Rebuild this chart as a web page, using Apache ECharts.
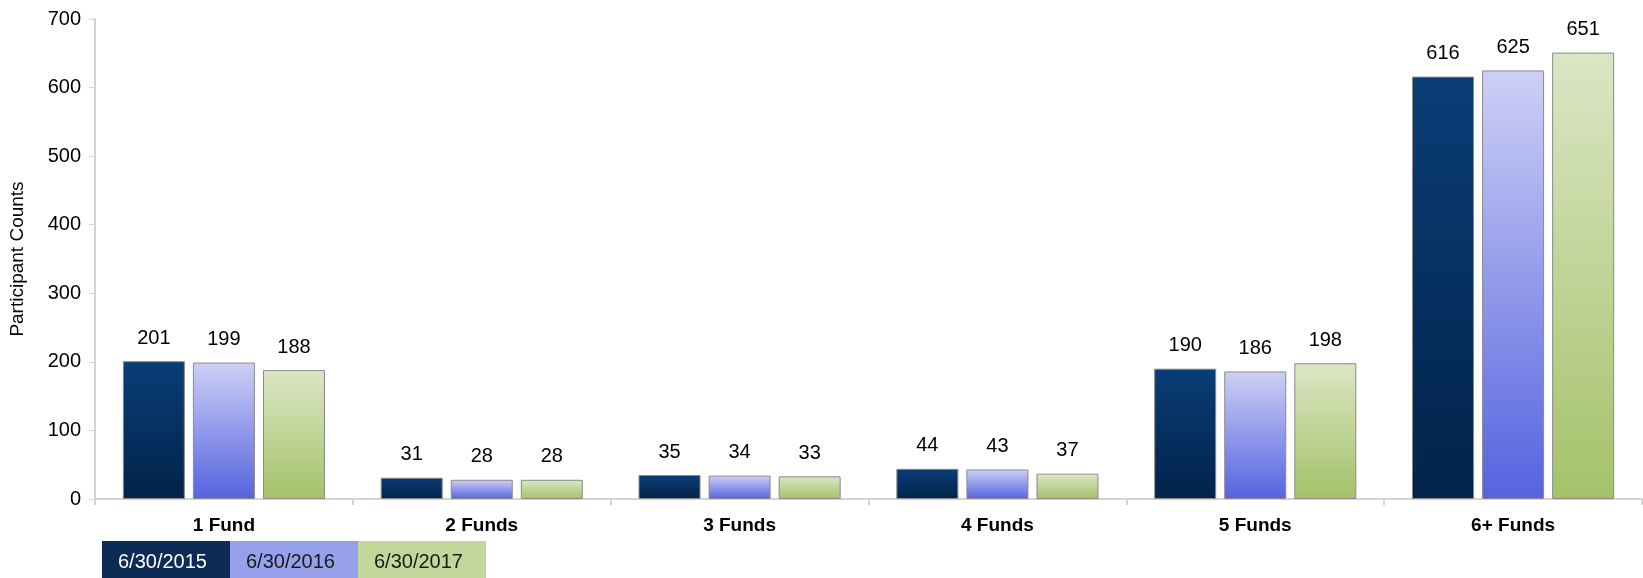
<!DOCTYPE html>
<html><head><meta charset="utf-8">
<script src="https://cdn.jsdelivr.net/npm/echarts@6/dist/echarts.min.js"></script>
<style>html,body{margin:0;padding:0;background:#fff}#c{width:1643px;height:578px}</style>
</head><body><div id="c"></div>
<script>
const categories = ['1 Fund', '2 Funds', '3 Funds', '4 Funds', '5 Funds', '6+ Funds'];
const seriesNames = ['6/30/2015', '6/30/2016', '6/30/2017'];
const values2015 = [201, 31, 35, 44, 190, 616];
const values2016 = [199, 28, 34, 43, 186, 625];
const values2017 = [188, 28, 33, 37, 198, 651];
const yTicks = [0, 100, 200, 300, 400, 500, 600, 700];

const gradients = [
  ['#0a3d76', '#02234a'],
  ['#cdd0f5', '#5563e0'],
  ['#dbe6c4', '#a4c26a']
];
const legendFill = ['#0c2c55', '#97a0ea', '#c4d79b'];
const legendText = ['#ffffff', '#1a1a1a', '#1a1a1a'];
const font = 'Liberation Sans, Arial, sans-serif';

const chart = echarts.init(document.getElementById('c'));
const allValues = [values2015, values2016, values2017];
const series = allValues.map((vals, i) => ({
  name: seriesNames[i],
  type: 'bar',
  data: vals,
  barWidth: 62,
  barGap: '13%',
  itemStyle: {
    color: new echarts.graphic.LinearGradient(0, 0, 0, 1, [
      {offset: 0, color: gradients[i][0]},
      {offset: 1, color: gradients[i][1]}
    ]),
    borderColor: '#8a8a8a',
    borderWidth: 1
  },
  label: {
    show: true, position: 'top', distance: 13,
    color: '#000', fontSize: 20, fontFamily: font
  }
}));

const legendItems = [];
seriesNames.forEach((n, i) => {
  legendItems.push({
    type: 'rect', left: 102 + i * 128, top: 541,
    shape: {width: 128, height: 37},
    style: {fill: legendFill[i]}
  });
  legendItems.push({
    type: 'text', left: 102 + i * 128 + 16, top: 552,
    style: {text: n, fill: legendText[i], font: '20px ' + font}
  });
});

chart.setOption({
  animation: false,
  grid: {left: 93, right: 1, top: 19, bottom: 79, containLabel: false},
  xAxis: {
    type: 'category', data: categories,
    axisLine: {lineStyle: {color: '#d4d4d4', width: 2}},
    axisTick: {show: true, length: 6, lineStyle: {color: '#d4d4d4', width: 2}},
    axisLabel: {color: '#000', fontSize: 19, fontWeight: 'bold', fontFamily: font, margin: 17}
  },
  yAxis: {
    type: 'value', min: 0, max: 700, interval: 100,
    name: 'Participant Counts', nameLocation: 'middle', nameGap: 68,
    nameTextStyle: {color: '#000', fontSize: 19, fontFamily: font},
    axisLine: {show: true, lineStyle: {color: '#d4d4d4', width: 2}},
    axisTick: {show: true, length: 6, lineStyle: {color: '#d4d4d4', width: 1}},
    splitLine: {show: false},
    axisLabel: {color: '#000', fontSize: 20, fontFamily: font, margin: 14,
      formatter: v => yTicks.includes(v) ? String(v) : ''}
  },
  series: series,
  graphic: legendItems
});
</script></body></html>
